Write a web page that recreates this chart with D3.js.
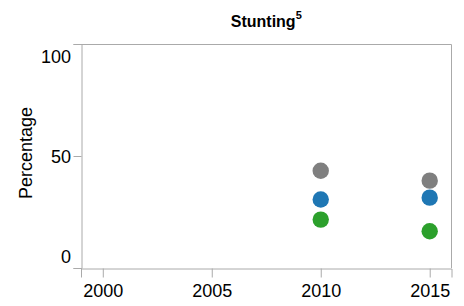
<!DOCTYPE html>
<html>
<head>
<meta charset="utf-8">
<script src="https://cdn.jsdelivr.net/npm/d3@7"></script>
<style>
  body { margin: 0; background: #fff; }
  svg { font-family: "Liberation Sans", Arial, sans-serif; }
</style>
</head>
<body>
<div id="chart"></div>
<script>
// values
var years = [2010, 2015];
var seriesNames = ["grey", "blue", "green"];
var greyValues = [43.4, 39.0];
var blueValues = [30.6, 31.4];
var greenValues = [21.6, 16.4];
var xTicks = [2000, 2005, 2010, 2015];
var yTicks = [0, 50, 100];

var colors = { grey: "#7f7f7f", blue: "#1f77b4", green: "#2ca02c" };
var seriesValues = { grey: greyValues, blue: blueValues, green: greenValues };

var width = 464, height = 306;
var svg = d3.select("#chart").append("svg")
    .attr("width", width)
    .attr("height", height);

var x = d3.scaleLinear().domain([1999, 2016]).range([81, 451.5]);
var y = d3.scaleLinear().domain([0, 100]).range([268, 44]);

var lineColor = "#aaa";

// view frame (top + right)
svg.append("path")
    .attr("d", "M" + x.range()[0] + "," + (y.range()[1] + 0.5) + "H" + (x.range()[1]) + "V" + y.range()[0])
    .attr("fill", "none")
    .attr("stroke", lineColor);

// x axis
var xAxis = svg.append("g")
    .attr("transform", "translate(0," + (y.range()[0] + 0.5) + ")")
    .call(d3.axisBottom(x).tickValues(xTicks).tickFormat(d3.format("d")).tickSizeOuter(0).tickSize(9).tickPadding(7));
xAxis.select(".domain").attr("stroke", lineColor);
xAxis.selectAll(".tick line").attr("stroke", lineColor);
xAxis.selectAll(".tick text")
    .attr("font-size", 18)
    .attr("fill", "#000")
    .attr("font-family", "Liberation Sans, Arial, sans-serif");

// y axis
var yAxis = svg.append("g")
    .attr("transform", "translate(" + (x.range()[0] + 0.5) + ",0)")
    .call(d3.axisLeft(y).tickValues(yTicks).tickSizeOuter(0).tickSize(8).tickPadding(2.5));
yAxis.select(".domain").attr("stroke", lineColor);
yAxis.selectAll(".tick line").attr("stroke", lineColor);
yAxis.selectAll(".tick text")
    .attr("font-size", 18)
    .attr("fill", "#000")
    .attr("font-family", "Liberation Sans, Arial, sans-serif")
    .attr("dy", function(d) {
      if (d === 0) return "-0.33em";
      if (d === 100) return "1em";
      return "0.35em";
    });

// y axis title
svg.append("text")
    .attr("transform", "translate(31.5,153) rotate(-90)")
    .attr("text-anchor", "middle")
    .attr("font-size", 18)
    .attr("fill", "#000")
    .text("Percentage");

// title
var title = svg.append("text")
    .attr("x", (x.range()[0] + x.range()[1]) / 2)
    .attr("y", 27)
    .attr("text-anchor", "middle")
    .attr("font-size", 16)
    .attr("font-weight", "bold")
    .attr("fill", "#000");
title.append("tspan").text("Stunting");
title.append("tspan").attr("font-size", 11).attr("dy", -8).text("5");

// points
seriesNames.forEach(function(name) {
  svg.append("g").selectAll("circle")
    .data(years.map(function(yr, i) { return { year: yr, value: seriesValues[name][i] }; }))
    .enter().append("circle")
      .attr("cx", function(d) { return x(d.year); })
      .attr("cy", function(d) { return y(d.value); })
      .attr("r", 8.2)
      .attr("fill", colors[name]);
});
</script>
</body>
</html>
